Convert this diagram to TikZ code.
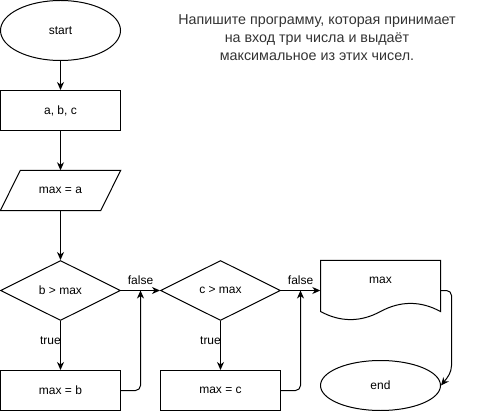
\documentclass[tikz,border=0pt]{standalone}
\usepackage{fontspec}
\setmainfont{Liberation Sans}
\usetikzlibrary{shapes.geometric,arrows.meta}
\definecolor{desc}{HTML}{333333}
\begin{document}
\begin{tikzpicture}[x=1pt,y=-1pt,
  every node/.style={font=\fontsize{12}{14}\selectfont, inner sep=0pt},
  line/.style={line width=1pt, draw=black},
  arr/.style={line width=1pt, -{Stealth[length=8pt,width=7pt,inset=2.5pt]}},
  term/.style={line, ellipse, minimum width=120pt, minimum height=60pt},
  proc/.style={line, rectangle, minimum width=120pt, minimum height=40pt},
  dec/.style={line, diamond, aspect=2, minimum width=120pt, minimum height=60pt},
  lbl/.style={font=\fontsize{12}{14}\selectfont}
]
\useasboundingbox (-0.5,-0.5) rectangle (480.5,410.5);

\node[term] (start) at (60,30) {start};
\node[proc] (abc) at (60,110) {a, b, c};
\node[minimum width=120pt, minimum height=40pt] (maxa) at (60,190) {max = a};
\draw[line] ([xshift=20pt]maxa.north west) -- (maxa.north east) -- ([xshift=-20pt]maxa.south east) -- (maxa.south west) -- cycle;

\node[dec] (d1) at (60,290) {b > max};
\node[dec] (d2) at (220,290) {c > max};
\node[proc] (mb) at (60,390) {max = b};
\node[proc] (mc) at (220,390) {max = c};

\node[minimum width=120pt, minimum height=60pt] (doc) at (380,290) {};
\draw[line] (320,260) -- (440,260) -- (440,311)
  .. controls (420,300.2) and (400,300.2) .. (380,311)
  .. controls (360,321.8) and (340,321.8) .. (320,311) -- cycle;
\node (doctext) at (380,280) {max};

\node[term, minimum height=50pt] (end) at (380,385) {end};

\node[align=center, text=desc, font=\fontsize{14.3}{18.3}\selectfont] (desc) at (316.5,37)
  {Напишите программу, которая принимает\\на вход три числа и выдаёт\\максимальное из этих чисел.};

\coordinate (j1) at (140,290);
\coordinate (j2) at (300,290);

\draw[arr] (start) -- (abc);
\draw[arr] (abc) -- (maxa);
\draw[arr] (maxa) -- (d1);
\draw[arr] (d1.east) -- (d2.west) node[lbl, pos=0.5, yshift=10pt] (f1) {false};
\draw[arr] (d2.east) -- (doc.west) node[lbl, pos=0.5, yshift=10pt] (f2) {false};
\draw[arr] (d1.south) -- (mb.north) node[lbl, pos=0.4, xshift=-10pt] (t1) {true};
\draw[arr] (d2.south) -- (mc.north) node[lbl, pos=0.4, xshift=-10pt] (t2) {true};
\draw[arr, rounded corners=5pt] (mb.east) -| (j1);
\draw[arr, rounded corners=5pt] (mc.east) -| (j2);
\draw[arr, rounded corners=5pt] (doc.east) -- (451,290) -- (451,360)
  .. controls (451,372) and (447,377) .. (end.east);
\end{tikzpicture}
\end{document}
